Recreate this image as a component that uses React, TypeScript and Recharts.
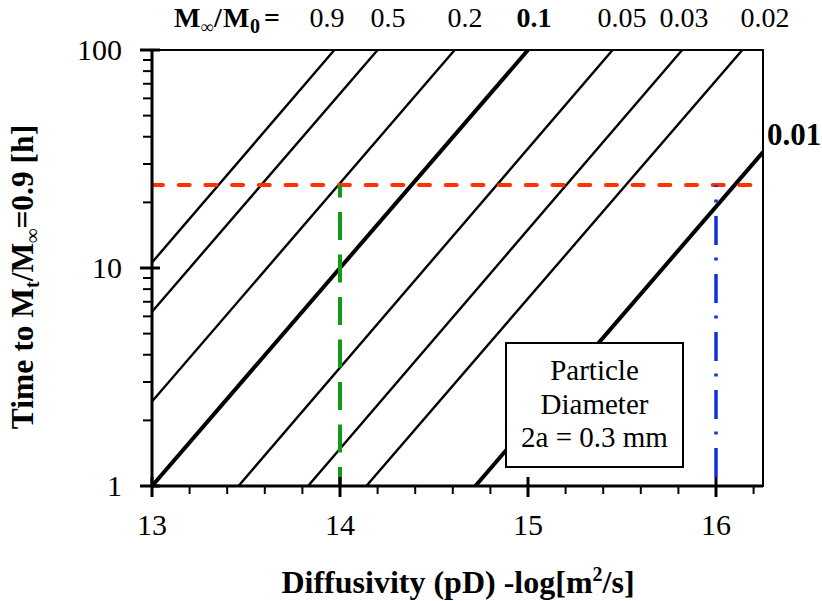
import React from 'react';
import { LineChart, Line, XAxis, YAxis, ReferenceArea } from 'recharts';

// ---- data ----
const ratioLabels = ['0.9', '0.5', '0.2', '0.1', '0.05', '0.03', '0.02', '0.01'];
const lineStartPD = [13, 13, 13, 13, 13.46, 13.83, 14.14, 14.72];
const lineStartT = [10.6, 6.3, 2.44, 1, 1, 1, 1, 1];
const lineEndPD = [13.97, 14.2, 14.61, 15.0, 15.45, 15.82, 16.14, 16.25];
const lineEndT = [100, 100, 100, 100, 100, 100, 100, 34];
const boldRatios = ['0.1', '0.01'];

const targetTime = 24; // hours
const markedPD = [14, 16];

const xMajorTicks = [13, 14, 15, 16];
const xMinorTicks = [13.2, 13.4, 13.6, 13.8, 14.2, 14.4, 14.6, 14.8, 15.2, 15.4, 15.6, 15.8, 16.2];
const yMajorTicks = [1, 10, 100];
const yMinorTicks = [2, 3, 4, 5, 6, 7, 8, 9, 20, 30, 40, 50, 60, 70, 80, 90];
const xDomain = [13, 16.25];
const yDomain = [1, 100];

const titleLabelX = [327, 388, 465, 534, 622, 684, 765];

const FONT = '"Liberation Serif", "Times New Roman", Times, serif';

const seriesData = ratioLabels.map((r, i) => ({
  ratio: r,
  points: [
    { x: lineStartPD[i], t: lineStartT[i] },
    { x: lineEndPD[i], t: lineEndT[i] },
  ],
}));

const redData = [
  { x: xDomain[0], t: targetTime },
  { x: xDomain[1], t: targetTime },
];
const greenData = [
  { x: markedPD[0], t: 1 },
  { x: markedPD[0], t: targetTime },
];
const blueData = [
  { x: markedPD[1], t: 1 },
  { x: markedPD[1], t: targetTime },
];

const allXTicks = [...xMajorTicks, ...xMinorTicks].sort((a, b) => a - b);
const allYTicks = [...yMajorTicks, ...yMinorTicks].sort((a, b) => a - b);

const XTick = (props: any) => {
  const { x, y, payload } = props;
  const v = payload.value as number;
  const major = xMajorTicks.some((m) => Math.abs(m - v) < 1e-6);
  return (
    <g>
      {major ? (
        <line x1={x} x2={x} y1={y - 9} y2={y + 11} stroke="#000" strokeWidth={3} />
      ) : (
        <line x1={x} x2={x} y1={y} y2={y + 8} stroke="#000" strokeWidth={2} />
      )}
      {major && (
        <text x={x} y={y + 49} textAnchor="middle" style={{ fontFamily: FONT }} fontSize={30} fill="#000">
          {v}
        </text>
      )}
    </g>
  );
};

const YTick = (props: any) => {
  const { x, y, payload } = props;
  const v = payload.value as number;
  const major = yMajorTicks.some((m) => Math.abs(m - v) < 1e-6);
  return (
    <g>
      {major ? (
        <line x1={x - 12} x2={x + 8} y1={y} y2={y} stroke="#000" strokeWidth={3} />
      ) : (
        <line x1={x - 9} x2={x} y1={y} y2={y} stroke="#000" strokeWidth={2} />
      )}
      {major && (
        <text x={x - 30} y={y + 10} textAnchor="end" style={{ fontFamily: FONT }} fontSize={30} fill="#000">
          {v}
        </text>
      )}
    </g>
  );
};

export default function App() {
  return (
    <div style={{ position: 'absolute', left: 0, top: 0, width: 822, height: 601, background: '#fff' }}>
      <LineChart width={822} height={601} margin={{ top: 50, right: 59, bottom: 85, left: 92 }}>
        <XAxis
          type="number"
          dataKey="x"
          domain={xDomain}
          allowDataOverflow
          ticks={allXTicks}
          interval={0}
          tickSize={0}
          tickMargin={0}
          height={30}
          axisLine={{ stroke: '#000', strokeWidth: 3 }}
          tickLine={false}
          tick={(p: any) => <XTick {...p} />}
        />
        <YAxis
          type="number"
          dataKey="t"
          scale="log"
          domain={yDomain}
          allowDataOverflow
          ticks={allYTicks}
          interval={0}
          tickSize={0}
          tickMargin={0}
          width={60}
          axisLine={{ stroke: '#000', strokeWidth: 3 }}
          tickLine={false}
          tick={(p: any) => <YTick {...p} />}
        />
        <ReferenceArea
          x1={xDomain[0]}
          x2={xDomain[1]}
          y1={yDomain[0]}
          y2={yDomain[1]}
          fill="none"
          fillOpacity={0}
          stroke="#000"
          strokeWidth={2}
          strokeOpacity={1}
        />
        {seriesData.map((s) => (
          <Line
            key={s.ratio}
            data={s.points}
            dataKey="t"
            type="linear"
            stroke="#000"
            strokeWidth={boldRatios.includes(s.ratio) ? 4 : 2.4}
            dot={false}
            activeDot={false}
            isAnimationActive={false}
          />
        ))}
        <Line
          data={redData}
          dataKey="t"
          type="linear"
          stroke="#ff3300"
          strokeWidth={4}
          strokeLinecap="round"
          strokeDasharray="11 15.7"
          dot={false}
          activeDot={false}
          isAnimationActive={false}
        />
        <Line
          data={greenData}
          dataKey="t"
          type="linear"
          stroke="#159a15"
          strokeWidth={4}
          strokeDasharray="28 14.5"
          strokeDashoffset={9}
          dot={false}
          activeDot={false}
          isAnimationActive={false}
        />
        <Line
          data={blueData}
          dataKey="t"
          type="linear"
          stroke="#1030e0"
          strokeWidth={3.5}
          strokeDasharray="29 13.5 3 12.5"
          strokeDashoffset={49}
          dot={false}
          activeDot={false}
          isAnimationActive={false}
        />
      </LineChart>
      <svg
        width={822}
        height={601}
        style={{ position: 'absolute', left: 0, top: 0, pointerEvents: 'none', fontFamily: FONT }}
      >
        {/* title row */}
        <text y={27} fontSize={28} fontWeight="bold" fill="#000">
          <tspan x={174}>M</tspan>
          <tspan x={201} dy={6} fontSize={18}>∞</tspan>
          <tspan x={214} dy={-6}>/</tspan>
          <tspan x={223}>M</tspan>
          <tspan x={250} dy={6} fontSize={20}>0</tspan>
          <tspan x={264} dy={-6}>=</tspan>
        </text>
        {ratioLabels.slice(0, 7).map((r, i) => (
          <text
            key={r}
            x={titleLabelX[i]}
            y={27}
            textAnchor="middle"
            fontSize={28}
            fontWeight={boldRatios.includes(r) ? 'bold' : 'normal'}
            fill="#000"
          >
            {r}
          </text>
        ))}
        <text x={767} y={145} fontSize={31} fontWeight="bold" fill="#000">
          {ratioLabels[7]}
        </text>

        {/* axis titles */}
        <text
          transform="translate(33,277) rotate(-90)"
          textAnchor="middle"
          fontSize={31.5}
          fontWeight="bold"
          fill="#000"
        >
          Time to M<tspan fontSize={20} dy={6}>t</tspan>
          <tspan dy={-6}>/M</tspan>
          <tspan fontSize={20} dy={6}>∞</tspan>
          <tspan dy={-6}>=0.9 [h]</tspan>
        </text>
        <text x={458} y={593} textAnchor="middle" fontSize={32} fontWeight="bold" fill="#000">
          Diffusivity (pD) -log[m<tspan fontSize={20} dy={-12}>2</tspan>
          <tspan dy={12}>/s]</tspan>
        </text>

        {/* annotation box */}
        <rect x={506} y={343} width={177} height={124} fill="#fff" stroke="#000" strokeWidth={2} />
        <text x={594.5} y={380} textAnchor="middle" fontSize={29} fill="#000">Particle</text>
        <text x={594.5} y={414} textAnchor="middle" fontSize={29} fill="#000">Diameter</text>
        <text x={594.5} y={447} textAnchor="middle" fontSize={29} fill="#000">2a = 0.3 mm</text>
      </svg>
    </div>
  );
}
